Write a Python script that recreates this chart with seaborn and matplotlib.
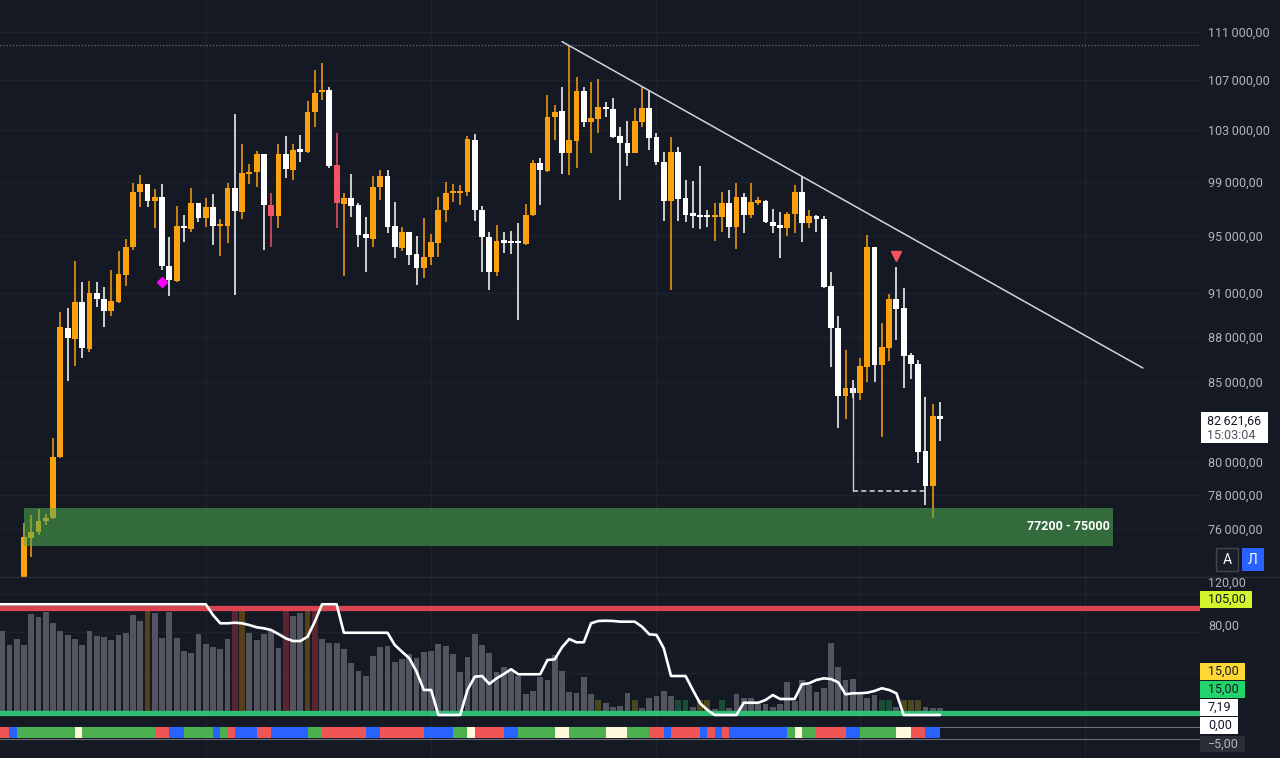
import numpy as np
import pandas as pd
import seaborn as sns
import matplotlib.pyplot as plt
from matplotlib.patches import Rectangle
from matplotlib.ticker import FixedLocator, NullLocator, FuncFormatter

"""
Data (daily candles, index 0 = first visible bar)
"""
opens = [72700, 75480, 75810, 76450, 76630, 80270, 88600, 87850, 90360, 87180,
         90980, 90570, 89760, 90380, 92230, 94200, 98240, 98860, 97610, 97860,
         92890, 91840, 95770, 95500, 97460, 96310, 97160, 95740, 95740, 98540,
         96790, 99620, 99740, 101150, 97270, 96480, 101120, 99920, 101450, 101280,
         104410, 106040, 106200, 100270, 97370, 97790, 97290, 95160, 94800, 98610,
         99460, 95740, 94170, 95290, 93720, 92710, 93530, 94510, 96920, 98160,
         98160, 98280, 102230, 96920, 94970, 92470, 94680, 94610, 94560, 94440,
         96550, 100430, 99870, 104000, 104510, 101250, 102180, 106150, 103670, 103860,
         104860, 104680, 102540, 102020, 101250, 103670, 104730, 102440, 100550, 97610,
         101320, 97790, 96620, 96550, 96500, 96380, 96420, 97410, 95690, 97860,
         96550, 97460, 97590, 96060, 95740, 95590, 96620, 98280, 95990, 96480,
         96230, 91470, 88580, 84110, 84640, 84280, 86010, 94240, 86120, 87230,
         90540, 89910, 86780, 86190, 80680, 78540, 82860]
highs = [76350, 76820, 77170, 76880, 81480, 89670, 89950, 93220, 91770, 91810,
         91770, 91420, 92590, 93960, 94830, 98960, 99540, 98860, 98480, 98860,
         94930, 97200, 96550, 98580, 97460, 97790, 98110, 96230, 98960, 104280,
         101920, 100380, 101380, 101150, 98210, 101920, 102570, 101920, 102620, 105310,
         107830, 108380, 106470, 102750, 98160, 99590, 97410, 96430, 99460, 99920,
         99920, 97530, 95650, 95330, 95020, 96310, 95160, 97910, 98990, 98840,
         98790, 102540, 102670, 97210, 95330, 95820, 95330, 95400, 95940, 97360,
         100680, 100840, 105790, 104990, 106430, 109840, 107290, 106430, 106880, 107080,
         105260, 105540, 103220, 103750, 104730, 106430, 106080, 102750, 101320, 102440,
         101700, 99160, 99110, 100220, 96920, 97410, 98280, 98410, 98910, 98210,
         98910, 97910, 97660, 96970, 96790, 96790, 98790, 99430, 96920, 96550,
         96480, 92470, 89400, 87110, 85140, 86560, 95090, 94240, 88940, 90910,
         92820, 91300, 86930, 86450, 84030, 83600, 83740]
lows = [72400, 74400, 75660, 76230, 76600, 80200, 85080, 86060, 86600, 87000,
        90040, 88670, 89400, 90290, 91470, 94010, 97160, 97140, 95620, 92620,
        90770, 91770, 94610, 95330, 96060, 95690, 94370, 93580, 94530, 90840,
        96230, 98860, 98660, 94010, 94200, 95590, 99290, 99160, 100550, 101220,
        103270, 105390, 100100, 95580, 92160, 96420, 94250, 92470, 94250, 97660,
        95210, 93420, 93940, 92940, 91530, 92010, 92940, 93530, 96060, 97530,
        97290, 97940, 96130, 92470, 91190, 92170, 93820, 93720, 89130, 94370,
        96480, 97290, 99790, 102230, 99620, 99540, 100050, 103280, 101200, 102750,
        104070, 102360, 97660, 100220, 101200, 103280, 101450, 100300, 96130, 91190,
        96130, 96060, 95590, 95520, 95690, 94680, 95330, 94850, 94060, 95210,
        96310, 97290, 95980, 95210, 93420, 95020, 95210, 94610, 95580, 95330,
        91310, 86010, 82060, 82630, 83980, 83850, 85030, 85030, 81510, 86400,
        87780, 84600, 85190, 79940, 77410, 76620, 81290]
closes = [75560, 75830, 76490, 76640, 80300, 88670, 87890, 90360, 87240, 90980,
          90570, 89760, 90430, 92310, 94240, 98240, 98860, 97590, 97860, 92890,
          91880, 95770, 95580, 97460, 96310, 97160, 95770, 95820, 98540, 96870,
          99670, 99790, 101150, 97270, 96480, 101120, 99970, 101450, 101320, 104460,
          105980, 106120, 100220, 97410, 97790, 97220, 95090, 94850, 98660, 99460,
          95690, 94200, 95290, 93650, 92710, 93530, 94610, 96920, 98160, 98280,
          98330, 102280, 96920, 94970, 92470, 94680, 94530, 94490, 94490, 96550,
          100480, 99920, 104000, 104450, 101250, 102230, 106150, 103670, 103940, 104860,
          104680, 102490, 101970, 101250, 103720, 104730, 102360, 100550, 97610, 101320,
          97710, 96550, 96500, 96420, 96380, 96450, 97410, 95690, 97860, 96550,
          97530, 97530, 96060, 95740, 95620, 96620, 98280, 95990, 96480, 96230,
          91420, 88580, 84110, 84640, 84320, 86060, 94240, 86120, 87290, 90540,
          89850, 86740, 86190, 80610, 78540, 82860, 82620]
red_bars = [34, 43]
month_starts = [25, 56, 87, 115, 146]
price_ticks = [111000, 107000, 103000, 99000, 95000, 91000, 88000, 85000, 80000, 78000, 76000]

zone_low, zone_high = 75000, 77200
trend_x = [74, 153.9]
trend_y = [110190, 85920]
ath_level = 109900
sweep_x = [114, 123.8]
sweep_top, sweep_level = 84950, 78250
diamond = (19, 91750)
triangle = (120, 93580)
last_price = "82\u2009621,66"
last_time = "15:03:04"

# indicator pane histogram, index -3 .. 126
hist_start = -3
hist = [85.5, 73.0, 78.2, 73.0, 100.1, 97.3, 101.8, 91.9, 85.3, 81.6,
        78.4, 73.5, 85.5, 81.0, 80.1, 77.3, 81.6, 83.3, 99.3, 94.1,
        104, 101.0, 79.0, 101.8, 79.5, 68.1, 66.7, 82.5, 74.1, 71.8,
        69.6, 78.2, 104, 104, 83.3, 77.6, 82.5, 85.3, 70.5, 104,
        98.1, 101.0, 104, 104, 78.4, 74.7, 75.3, 70.1, 57.6, 51.0,
        46.7, 63.9, 71.3, 72.2, 59.0, 61.0, 65.6, 62.4, 67.0, 68.4,
        73.9, 72.4, 65.6, 49.9, 62.7, 82.5, 73.0, 66.2, 50.1, 54.7,
        52.5, 46.7, 31.3, 34.1, 45.6, 43.3, 64.7, 51.3, 33.0, 31.9,
        45.6, 31.3, 26.1, 23.3, 19.9, 21.0, 32.4, 26.1, 19.0, 27.6,
        29.6, 34.1, 29.6, 26.1, 26.1, 20.4, 26.1, 26.1, 18.2, 26.1,
        19.0, 31.0, 28.1, 28.1, 22.7, 22.5, 19.9, 22.5, 41.8, 25.3,
        43.3, 39.0, 33.3, 36.2, 74.7, 54.2, 43.3, 43.9, 30.2, 28.1,
        30.4, 26.1, 26.1, 20.4, 26.1, 26.1, 26.1, 19.9, 19.0, 19.5]
hist_kind = ("g" * 20 + "b" + "g" * 11 + "r" + "b" + "g" * 5 + "r" + "gg" + "b" + "r"
             + "g" * 38 + "o" + "gggg" + "o" + "ggggg" + "dd" + "g" + "oo" + "g" + "d"
             + "g" * 21 + "dd" + "g" + "ooo" + "ggg")
# oscillator line, index -4 .. 126
osc_start = -4
osc = [108.2] * 30 + [
    99.0, 91.9, 91.9, 92.4, 91.9, 90.4, 88.5, 87.6, 86.1, 82.7,
    79.0, 76.7, 76.7, 80.4, 93.3, 108.2, 108.2, 108.2,
    83.8, 83.8, 83.8, 83.8, 83.8, 83.8, 83.8,
    73.3, 67.5, 61.9, 50.4, 34.7, 34.7,
    13.3, 13.3, 13.3, 13.3,
    34.7, 46.1, 46.7, 39.9, 44.7, 48.4, 52.5,
    48.2, 48.2, 48.2, 48.2,
    60.4, 61.0, 71.3, 78.4, 75.6, 75.6, 91.9, 93.9, 94.1, 93.9,
    93.3, 93.3, 93.3, 89.0, 82.5, 81.9, 70.5, 46.7, 46.7, 46.7,
    34.7, 23.3, 17.6,
    13.3, 13.3, 13.3, 13.3,
    23.8, 23.8, 23.8, 26.1, 30.4, 27.0, 27.0, 27.0, 39.6, 40.5,
    43.3, 44.7, 44.1, 41.3, 31.0, 31.9, 31.9, 32.4, 33.9, 36.2,
    34.7, 31.9,
    13.3, 13.3, 13.3, 13.3, 13.3, 13.3]
# colour strip, index -4 .. 125
strip_start = -4
strip = ("RRB" + "GGGGGGGG" + "W" + "GGGGGGGGGG" + "RRBB" + "GGGG" + "BGR" + "BBB" + "RR"
         + "BBBBB" + "GG" + "RRRRRR" + "BB" + "RRRRRR" + "BBBB" + "GG" + "W" + "RRRR" + "BB"
         + "GGGGG" + "WW" + "GGGGG" + "WWW" + "GGG" + "RR" + "B" + "RRRR" + "BRBR"
         + "BBBBBBBB" + "GW" + "GG" + "RRRR" + "BB" + "GGGGG" + "WW" + "RR" + "BB")

"""
Style
"""
BG = '#151924'
GRID = '#1E222D'
ORANGE = '#FBA00E'
WHITE = '#FFFFFF'
RED = '#F05467'
TXT = '#B2B5BE'

sns.set_theme(style="dark", rc={'axes.facecolor': BG, 'figure.facecolor': BG,
                                'savefig.facecolor': BG})
plt.rcParams['font.family'] = ['Roboto', 'DejaVu Sans']

W, H = 1280, 758
fig = plt.figure(figsize=(12.8, 7.58), dpi=100)
ax = fig.add_axes([0, 181 / H, 1200 / W, 577 / H])
ax2 = fig.add_axes([0, 0, 1200 / W, 181 / H])

xlim = (-24 / 7.27, (1200 - 24) / 7.27)

"""
Price pane
"""
df = pd.DataFrame({'open': opens, 'high': highs, 'low': lows, 'close': closes})
df['i'] = np.arange(len(df))
col = np.where(df['close'] >= df['open'], ORANGE, WHITE).astype(object)
col[red_bars] = RED
body_lo = np.minimum(df['open'], df['close'])
body_h = np.maximum((df['close'] - df['open']).abs(), body_lo * 0.0017)

ax.set_yscale('log')
ax.vlines(df['i'], df['low'], df['high'], colors=col, lw=1.1, zorder=3)
ax.bar(df['i'], body_h, bottom=body_lo, width=0.8, color=col, lw=0, zorder=4)

ax.add_patch(Rectangle((0, zone_low), 149.8, zone_high - zone_low, facecolor='#4CAF50',
                       alpha=0.55, lw=0, zorder=5))
ax.text(149.3, 76120, "77200 - 75000", ha='right', va='center', color='white',
        fontsize=9, fontweight='bold', zorder=6)

ax.plot(trend_x, trend_y, color='#D1D4DC', lw=1.1, zorder=6)
ax.axhline(ath_level, color='#6A6D78', lw=0.9, ls=(0, (1, 1.5)), zorder=2)
ax.plot([sweep_x[0], sweep_x[0]], [sweep_top, sweep_level], color='#C8CBD3', lw=1.0, zorder=6)
ax.plot(sweep_x, [sweep_level, sweep_level], color='#C8CBD3', lw=1.2, ls=(0, (3, 2)), zorder=6)
ax.plot(*diamond, marker='D', color='#FF00FF', ms=5, zorder=7)
ax.plot(*triangle, marker='v', color='#F7525F', ms=7, zorder=7)

ax.set_xlim(*xlim)
ax.set_ylim(73268, 113741)
ax.yaxis.set_major_locator(FixedLocator(price_ticks))
ax.yaxis.set_minor_locator(NullLocator())
ax.yaxis.set_major_formatter(FuncFormatter(
    lambda v, p: f"{int(round(v)):,}".replace(",", "\u2009") + ",00"))
ax.yaxis.tick_right()
ax.tick_params(axis='y', length=0, pad=6, labelcolor=TXT, labelsize=9)
ax.set_xticks(month_starts)
ax.tick_params(axis='x', length=0, labelbottom=False)
ax.grid(True, color=GRID, lw=1)
for s in ax.spines.values():
    s.set_visible(False)

"""
Indicator pane
"""
hd = pd.DataFrame({'i': np.arange(hist_start, hist_start + len(hist)),
                   'hist': hist, 'kind': list(hist_kind[:len(hist)])})
od = pd.DataFrame({'i': np.arange(osc_start, osc_start + len(osc)), 'osc': osc})
kind_col = {'g': '#52555F', 'o': '#4B4820', 'd': '#1B4C37', 'r': '#5A2530', 'b': '#55401B'}
kind_w = {'g': 0.8, 'o': 0.8, 'd': 0.8, 'r': 0.85, 'b': 0.75}
ax2.bar(hd['i'], hd['hist'] - 12, bottom=12, width=[kind_w[k] for k in hd['kind']],
        color=[kind_col[k] for k in hd['kind']], lw=0, zorder=2)

for v in [117, 84.7, 49]:
    ax2.axhline(v, color=GRID, lw=1, zorder=1)
for m in month_starts:
    ax2.axvline(m, color=GRID, lw=1, zorder=1)

ax2.axhline(105, color='#D9454F', lw=3.8, zorder=3)
ax2.axhline(15, color='#2DBE72', lw=3.8, zorder=3)
sns.lineplot(data=od, x='i', y='osc', ax=ax2, color='white', lw=1.9, zorder=5)

strip_col = {'R': '#F05454', 'B': '#2962FF', 'G': '#4CAF50', 'W': '#FFF9DC'}
sx = np.arange(strip_start, strip_start + len(strip))
ax2.bar(sx, 9.45, bottom=-6.7, width=1, align='edge',
        color=[strip_col[k] for k in strip], lw=0, zorder=3)
ax2.axhline(3.3, color='#6B6E78', lw=0.8, zorder=2)
ax2.axhline(-6.9, color='#6B6E78', lw=0.8, zorder=2)

ax2.set_xlim(*xlim)
ax2.set_ylim(-23.6, 131.6)
ax2.set_xticks([])
ax2.set_yticks([])
ax2.set_xlabel('')
ax2.set_ylabel('')
for s in ax2.spines.values():
    s.set_visible(False)

fig.add_artist(plt.Line2D([0, 1], [181 / H, 181 / H], color='#2A2E39', lw=1))

"""
Right scale boxes
"""
def box(x0, y0, x1, y1, fc, ec='none'):
    fig.add_artist(Rectangle((x0 / W, 1 - y1 / H), (x1 - x0) / W, (y1 - y0) / H,
                             transform=fig.transFigure, facecolor=fc, edgecolor=ec, lw=1))

def label(x, y, s, color, **kw):
    fig.text(x / W, 1 - y / H, s, color=color, va='center', ha='left', fontsize=9, **kw)

box(1201, 412, 1268, 443, 'white')
label(1207, 421, last_price, '#131722')
label(1207, 435, last_time, '#50535E')

box(1216, 548, 1238, 571, '#1A1E29', '#434651')
fig.text(1227 / W, 1 - 559.5 / H, "A", color='white', ha='center', va='center', fontsize=10)
box(1242, 548, 1264, 571, '#2962FF')
fig.text(1253 / W, 1 - 559.5 / H, "Л", color='white', ha='center', va='center', fontsize=10)

label(1208, 583, "120,00", TXT)
box(1200, 591, 1252, 608, '#D3F52B')
label(1208, 599.5, "105,00", '#131722')
label(1208, 626, "80,00", TXT)
box(1200, 663, 1245, 680, '#FDD835')
label(1208, 671.5, "15,00", '#131722')
box(1200, 681, 1245, 698, '#22D46B')
label(1208, 689.5, "15,00", '#131722')
box(1200, 699, 1238, 716, 'white')
label(1208, 707.5, "7,19", '#131722')
box(1200, 717, 1238, 734, 'white')
label(1208, 725.5, "0,00", '#131722')
box(1200, 736, 1245, 752, '#2A2E39')
label(1208, 744, "\u22125,00", TXT)

fig.savefig('out.png', dpi=100, facecolor=BG)
